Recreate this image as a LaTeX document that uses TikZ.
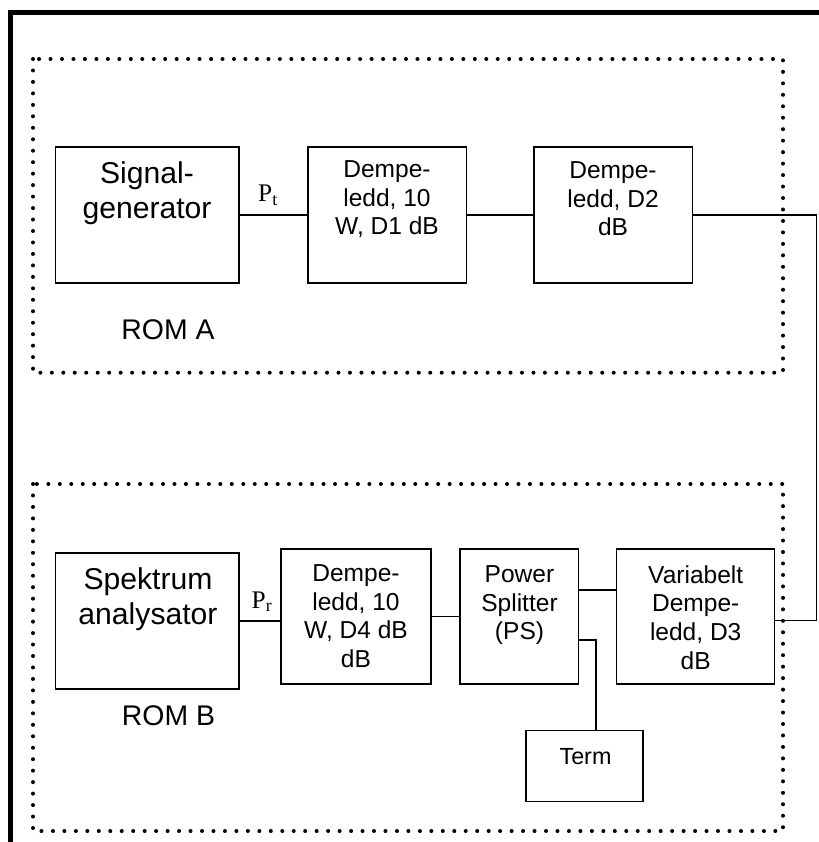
\documentclass[tikz,border=0pt]{standalone}
\usepackage{fontspec}
\setmainfont{Liberation Sans}
\newfontfamily\tnr{Liberation Serif}
\usetikzlibrary{fit}
\begin{document}
\begin{tikzpicture}[x=0.75pt,y=-0.75pt,
  box/.style={draw, line width=1pt, inner sep=0pt},
  conn/.style={line width=1pt},
  dotline/.style={line width=3pt, dash pattern=on 0pt off 8.6pt, line cap=round},
  frame/.style={line width=3.75pt},
  bigtxt/.style={inner sep=0pt, anchor=north, align=center, font=\fontsize{22.6}{26.25}\selectfont},
  smalltxt/.style={inner sep=0pt, anchor=north, align=center, font=\fontsize{18.4}{21.5}\selectfont},
  romtxt/.style={inner sep=0pt, anchor=base, font=\fontsize{21.3}{25}\selectfont},
  ptxt/.style={inner sep=0pt, anchor=base, font=\tnr\fontsize{19}{23}\selectfont}]
\useasboundingbox (0,0) rectangle (818,842);
% outer frame (only left and top visible)
\draw[frame] (10.5,850) -- (10.5,12.5) -- (830,12.5);
% dotted room boxes
\draw[dotline] (33,59) rectangle (783,372.7);
\draw[dotline] (33,484) rectangle (783,831);
% boxes room A
\node[box, fit={(55.7,147) (239,283)}] (sig) {};
\node[box, fit={(308,147) (466.7,283)}] (d1) {};
\node[box, fit={(534,147) (692.7,283)}] (d2) {};
% boxes room B
\node[box, fit={(55.7,553) (239,689)}] (spek) {};
\node[box, fit={(281,549) (431,684)}] (d4) {};
\node[box, fit={(460,549) (578.7,684)}] (ps) {};
\node[box, fit={(616.7,549) (774.7,684)}] (var) {};
\node[box, fit={(526,730.7) (643,801.7)}] (term) {};
% texts
\node[bigtxt] (sigt) at (147,161.1) {Signal-\\generator};
\node[smalltxt] (d1t) at (387,160.4) {Dempe-\\ledd, 10\\W, D1 dB};
\node[smalltxt] (d2t) at (613,161.4) {Dempe-\\ledd, D2\\dB};
\node[bigtxt] (spekt) at (148,567.4) {Spektrum\\analysator};
\node[smalltxt] (d4t) at (356,564.4) {Dempe-\\ledd, 10\\W, D4 dB\\dB};
\node[smalltxt] (pst) at (519.5,565.4) {Power\\Splitter\\(PS)};
\node[smalltxt] (vart) at (695.7,565.1) {Variabelt\\Dempe-\\ledd, D3\\dB};
\node[romtxt, font=\fontsize{17.5}{20}\selectfont] (termt) at (585.5,764) {Term};
\node[romtxt] (roma) at (168,339) {ROM A};
\node[romtxt] (romb) at (168.5,725) {ROM B};
\node[ptxt] (pt) at (268,201.7) {P\textsubscript{t}};
\node[ptxt] (pr) at (262,608) {P\textsubscript{r}};
% connectors
\coordinate (rc) at (816.7,215);
\coordinate (vin) at ([yshift=-3pt]var.east);
\coordinate (yps) at (0,590);
\coordinate (tj) at (596,640);
\draw[conn] (sig.east) -- (d1.west);
\draw[conn] (d1.east) -- (d2.west);
\draw[conn] (d2.east) -- (rc) |- (vin);
\draw[conn] (spek.east) -- (spek.east -| d4.west);
\draw[conn] (d4.east) -- (ps.west);
\draw[conn] (ps.east |- yps) -- (var.west |- yps);
\draw[conn] (ps.east |- tj) -- (tj) -- (tj |- term.north);
\end{tikzpicture}
\end{document}
